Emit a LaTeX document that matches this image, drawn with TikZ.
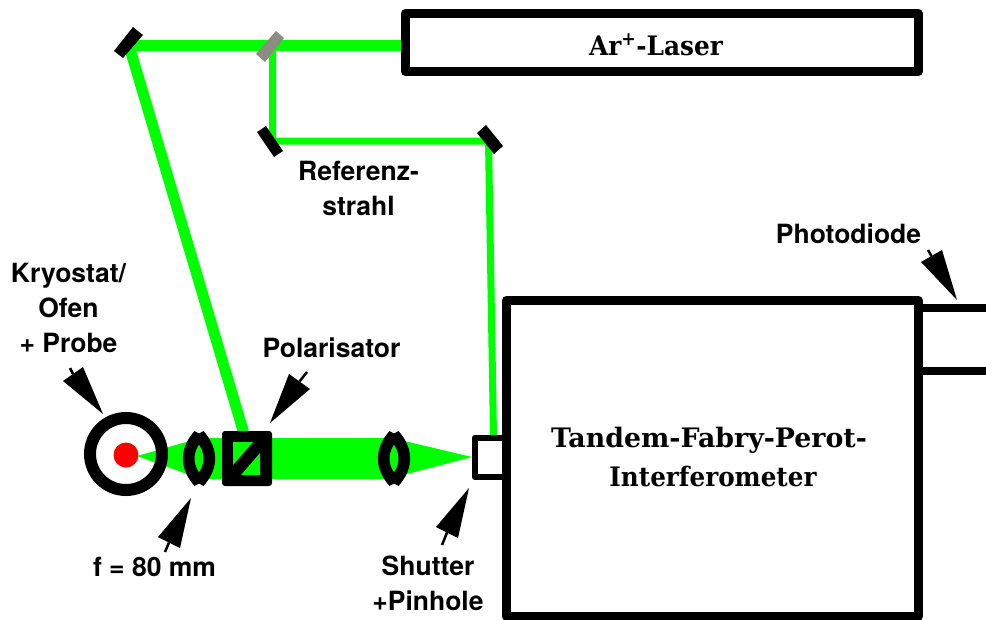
\documentclass[tikz,border=0pt]{standalone}
\usepackage{graphicx}
\usepackage{fontspec}
\newfontfamily\sanslab{TeX Gyre Heros}[BoldFont={* Bold}]
\newfontfamily\serifheavy{DejaVu Serif}[BoldFont={DejaVu Serif Bold}]
\definecolor{beam}{RGB}{0,255,0}
\definecolor{bsgrey}{RGB}{140,140,128}
\newcommand{\lenspath}[2]{%
 \fill[black,even odd rule] (#1-4.5,#2-27.5) -- (#1,#2-25) -- (#1+4.5,#2-27.5)
  .. controls (#1+20,#2-10) and (#1+20,#2+10) .. (#1+4.5,#2+27.5)
  -- (#1,#2+25) -- (#1-4.5,#2+27.5)
  .. controls (#1-20,#2+10) and (#1-20,#2-10) .. (#1-4.5,#2-27.5) -- cycle
  (#1,#2-14) .. controls (#1+6,#2-5) and (#1+6,#2+5) .. (#1,#2+14)
  .. controls (#1-6,#2+5) and (#1-6,#2-5) .. (#1,#2-14) -- cycle;}
\newcommand{\pointer}[8]{%
 \fill[black] (#1,#2) -- (#3,#4) -- (#5,#6) -- cycle;
 \draw[black,line width=2.5] ({(#3+#5)/2},{(#4+#6)/2}) -- (#7,#8);}
\tikzset{
 x=1pt,y=-1pt,
 boxline/.style={draw=black,line width=9,line join=round,fill=white},
 plainline/.style={draw=black,line width=8},
 thickbeam/.style={draw=beam,line width=11},
 thinbeam/.style={draw=beam,line width=7},
 mirror/.style={fill=black},
 lab/.style={font=\fontsize{26.5}{35}\selectfont\sanslab\bfseries,align=center,inner sep=0,text=black},
 serlab/.style={font=\fontsize{26.8}{30}\selectfont\serifheavy\bfseries,anchor=base,inner sep=0,text=black},
}
\begin{document}
\begin{tikzpicture}
\useasboundingbox (0,0) rectangle (986,619);
\coordinate (mA) at (129,45.5);
\coordinate (mB) at (272.5,141);
\coordinate (mC) at (488.5,141);
\coordinate (bs) at (272.5,45.5);
\coordinate (laserW) at (405,45.5);
\coordinate (polT) at (243.5,432);
\coordinate (shT) at (493.5,436);
% beams
\draw[thickbeam] (laserW) -- (mA);
\draw[thickbeam] (mA) -- (polT);
\draw[thinbeam,line join=miter] (bs) -- (mB) -- (mC) -- (shT);
\fill[beam] (137,456) -- (198,438.7) -- (198,478) -- cycle;
\fill[beam] (394,438.5) -- (472,457) -- (394,477.5) -- cycle;
\fill[beam] (198,438) rectangle (394,479);
% mirrors
\fill[mirror] (133,27) -- (143,35) -- (123,58) -- (114,51) -- cycle;
\fill[bsgrey] (276,31) -- (284,38) -- (265,62) -- (256,54) -- cycle;
\fill[mirror] (266,126) -- (257,132) -- (274,157) -- (283,151) -- cycle;
\fill[mirror] (486,125) -- (477,133) -- (494,154) -- (503,146) -- cycle;
% laser
\node[boxline,minimum width=512.5,minimum height=58,inner sep=0] (laser) at (661.75,42.5) {};
\node[serlab] (lasertext) at (656,55) {\scalebox{0.925}[1]{Ar\textsuperscript{+}-Laser}};
% shutter
\draw[draw=black,line width=6.5,line join=round,fill=white] (507,438) -- (475,438) -- (475,477) -- (507,477);
% main
\draw[boxline,line join=round] (506.5,300.5) -- (918.4,300.5) -- (918.4,616) -- (506.5,616) -- cycle;
\node[serlab] (tfp1) at (709,447) {Tandem-Fabry-Perot-};
\node[serlab] (tfp2) at (713,486) {\scalebox{0.92}[1]{Interferometer}};
\draw[plainline] (918,308) -- (986,308);
\draw[plainline] (918,371) -- (986,371);
% cryostat
\node[circle,draw=black,line width=12,minimum size=72,inner sep=0] (cryo) at (126,454) {};
\node[circle,fill=red,minimum size=25,inner sep=0] (probe) at (126,455) {};
% lenses
\lenspath{199}{458.5}
\lenspath{394}{458.5}
% polariser
\fill[black,rounded corners=3] (222,431) rectangle (272,486);
\fill[beam] (233,442) -- (253,442) -- (233,465) -- cycle;
\fill[beam] (260,453) -- (260,475) -- (241,475) -- cycle;
% arrows
\pointer{103}{414}{63}{381}{83}{367}{70}{368}
\pointer{270}{423}{289}{374}{310}{389}{307}{372}
\pointer{191}{498}{158}{537}{180}{548}{165}{552}
\pointer{469}{488}{436}{527}{458}{538}{442}{545}
\pointer{957}{300}{921}{262}{942}{250}{928}{250}
% labels
\node[lab] at (358.5,188) {Referenz-\\strahl};
\node[lab] at (848.5,234) {Photodiode};
\node[lab] at (68.5,308) {Kryostat/\\Ofen\\+ Probe};
\node[lab] at (331.5,348) {Polarisator};
\node[lab] at (154.5,567) {f = 80 mm};
\node[lab] at (428,583) {Shutter\\+Pinhole};
\end{tikzpicture}
\end{document}
